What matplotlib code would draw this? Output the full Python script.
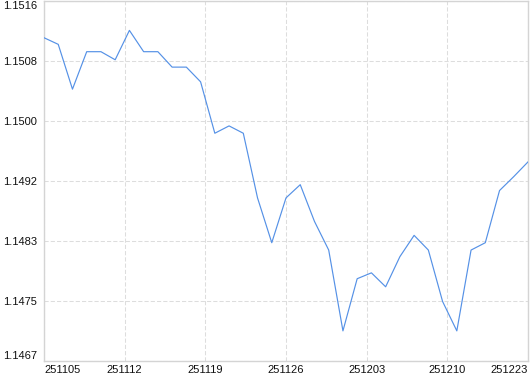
import matplotlib
matplotlib.use("Agg")
import matplotlib.pyplot as plt
import numpy as np

values = [1.15110, 1.15101, 1.15040, 1.15091, 1.15091, 1.15080, 1.15120, 1.15091,
          1.15091, 1.15070, 1.15070, 1.15050, 1.14980, 1.14990, 1.14980, 1.14892,
          1.14831, 1.14892, 1.14910, 1.14860, 1.14821, 1.14711, 1.14782, 1.14790,
          1.14771, 1.14812, 1.14841, 1.14821, 1.14751, 1.14711, 1.14821, 1.14831,
          1.14902, 1.14921, 1.14941]
x_labels = ["251105", "251112", "251119", "251126", "251203", "251210", "251223"]
y_min, y_max = 1.1467, 1.1516
y_labels = ["1.1467", "1.1475", "1.1483", "1.1492", "1.1500", "1.1508", "1.1516"]

plt.rcParams['font.family'] = ['Liberation Sans', 'DejaVu Sans']

fig = plt.figure(figsize=(5.30, 3.74), dpi=100)
ax = fig.add_axes([44 / 530, 1 - 361 / 374, (528 - 44) / 530, (361 - 1) / 374])

n = len(values)
xs = np.arange(n)
ax.plot(xs, values, color='#5591e6', lw=0.85, zorder=3)

ax.set_xlim(0, n - 1)
ax.set_ylim(y_min, y_max)

xt = np.linspace(0, n - 1, len(x_labels))
ax.set_xticks(xt)
ax.set_xticklabels(x_labels)
yt = np.linspace(y_min, y_max, len(y_labels))
ax.set_yticks(yt)
ax.set_yticklabels(y_labels)

ax.tick_params(axis='both', length=0, labelsize=8, labelcolor='#111111')
ax.tick_params(axis='y', pad=5)
ax.tick_params(axis='x', pad=3)

xl = ax.get_xticklabels()
xl[0].set_ha('left')
xl[-1].set_ha('right')
yl = ax.get_yticklabels()
yl[0].set_va('bottom')
yl[-1].set_va('top')

ax.grid(True, color='#dddddd', lw=0.75, linestyle=(0, (4, 2)))
ax.set_axisbelow(True)
for s in ax.spines.values():
    s.set_color('#d4d4d4')
    s.set_linewidth(1.0)

fig.savefig('out.png', dpi=100, facecolor='white')
